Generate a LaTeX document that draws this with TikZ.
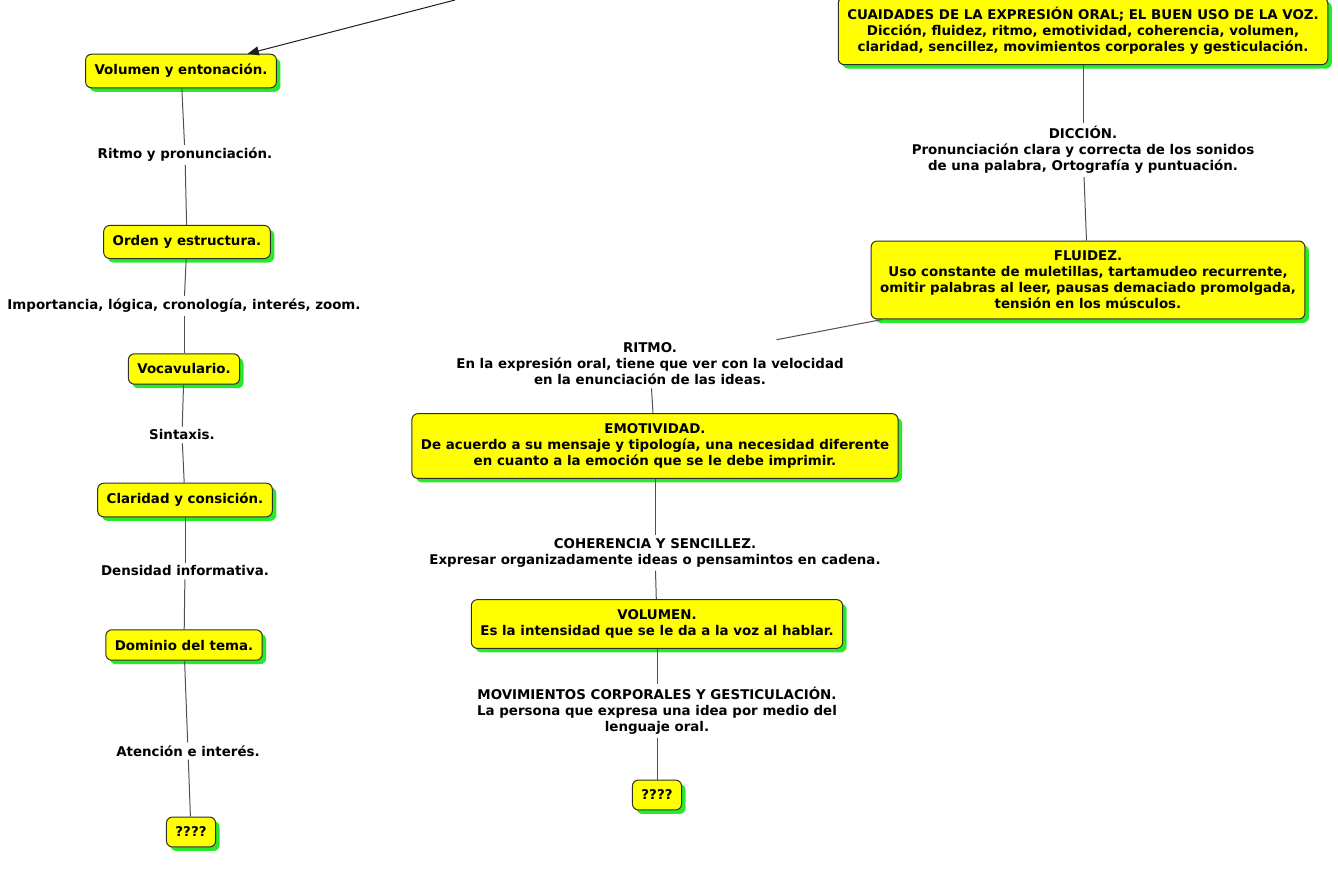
\documentclass[tikz,border=0pt]{standalone}
\usepackage{fontspec}
\setmainfont{DejaVu Sans}
\usetikzlibrary{shadows,arrows.meta}

\begin{document}
\begin{tikzpicture}[x=1pt,y=-1pt,
  concept/.style={draw=boxLine, fill=boxFill, rounded corners=6pt, line width=1pt,
    align=center, inner xsep=9pt, inner ysep=10pt,
    font=\fontsize{13.4}{16}\selectfont\bfseries,
    drop shadow={shadow xshift=4pt, shadow yshift=-4pt, fill=shadowColor, opacity=1}},
  phrase/.style={align=center, inner sep=3pt, font=\fontsize{13.4}{16}\selectfont\bfseries},
  link/.style={draw=linkColor, line width=1pt}]
% Colors
\definecolor{boxFill}{RGB}{255,255,0}
\definecolor{boxLine}{RGB}{45,45,45}
\definecolor{shadowColor}{RGB}{40,235,40}
\definecolor{linkColor}{RGB}{80,80,80}
\definecolor{arrowColor}{RGB}{30,30,30}
\useasboundingbox[fill=white] (0,0) rectangle (1338,877);
% Left column
\coordinate (top) at (455,0);
\node[concept] (vol)    at (181, 71) {Volumen y entonación.};
\node[phrase]  (ritmo)  at (185,155) {Ritmo y pronunciación.};
\node[concept] (orden)  at (187,242) {Orden y estructura.};
\node[phrase]  (import) at (184,306) {Importancia, lógica, cronología, interés, zoom.};
\node[concept] (vocab)  at (184,369) {Vocavulario.};
\node[phrase]  (sintax) at (182,435) {Sintaxis.};
\node[concept] (clar)   at (185,500) {Claridad y consición.};
\node[phrase]  (dens)   at (185,571) {Densidad informativa.};
\node[concept] (dom)    at (184,645) {Dominio del tema.};
\node[phrase]  (aten)   at (188,751) {Atención e interés.};
\node[concept] (quest)  at (191,832) {????};
% Right part
\node[concept] (main)   at (1083,31) {CUAIDADES DE LA EXPRESIÓN ORAL; EL BUEN USO DE LA VOZ.\\
  Dicción, fluidez, ritmo, emotividad, coherencia, volumen,\\
  claridad, sencillez, movimientos corporales y gesticulación.};
\node[phrase]  (diccion) at (1083,150) {DICCIÓN.\\
  Pronunciación clara y correcta de los sonidos\\
  de una palabra, Ortografía y puntuación.};
\node[concept] (fluidez) at (1088,280) {FLUIDEZ.\\
  Uso constante de muletillas, tartamudeo recurrente,\\
  omitir palabras al leer, pausas demaciado promolgada,\\
  tensión en los músculos.};
\node[phrase]  (ritmoOral) at (650,364) {RITMO.\\
  En la expresión oral, tiene que ver con la velocidad\\
  en la enunciación de las ideas.};
\node[concept] (emot)   at (655,446) {EMOTIVIDAD.\\
  De acuerdo a su mensaje y tipología, una necesidad diferente\\
  en cuanto a la emoción que se le debe imprimir.};
\node[phrase]  (coher)  at (655,553) {COHERENCIA Y SENCILLEZ.\\
  Expresar organizadamente ideas o pensamintos en cadena.};
\node[concept] (volumen) at (657,624) {VOLUMEN.\\
  Es la intensidad que se le da a la voz al hablar.};
\node[phrase]  (movim)  at (657,711) {MOVIMIENTOS CORPORALES Y GESTICULACIÓN.\\
  La persona que expresa una idea por medio del\\
  lenguaje oral.};
\node[concept] (questB) at (657,795) {????};
% Links
\draw[draw=arrowColor, line width=1pt, -{Triangle[length=11pt,width=9pt]}] (top) -- (vol);
\begin{scope}[link]
	\draw (vol) -- (ritmo);
	\draw (ritmo) -- (orden);
	\draw (orden) -- (import);
	\draw (import) -- (vocab);
	\draw (vocab) -- (sintax);
	\draw (sintax) -- (clar);
	\draw (clar) -- (dens);
	\draw (dens) -- (dom);
	\draw (dom) -- (aten);
	\draw (aten) -- (quest);
	\draw (main) -- (diccion);
	\draw (diccion) -- (fluidez);
	\draw (fluidez) -- (ritmoOral);
	\draw (ritmoOral) -- (emot);
	\draw (emot) -- (coher);
	\draw (coher) -- (volumen);
	\draw (volumen) -- (movim);
	\draw (movim) -- (questB);
\end{scope}
\end{tikzpicture}
\end{document}
